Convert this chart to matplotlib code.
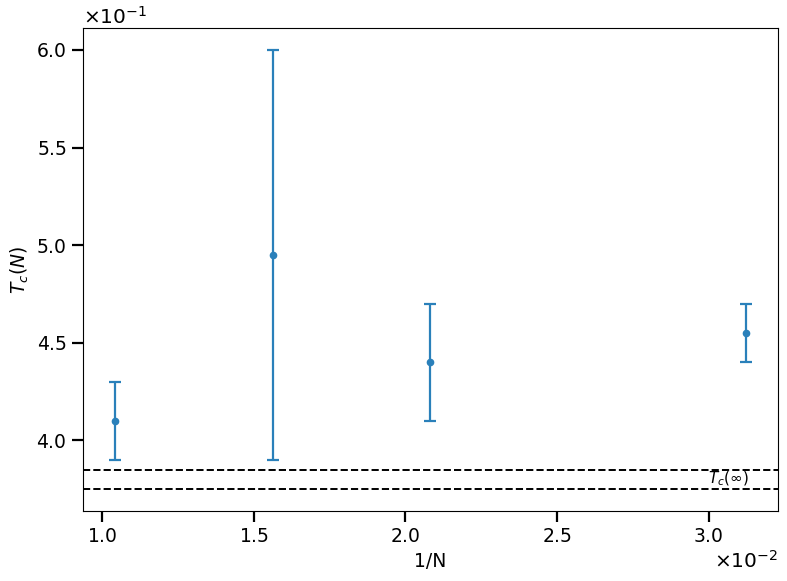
import numpy as np
import matplotlib.pyplot as plt

N_sizes = np.array([96, 64, 48, 32])
inv_N = 1.0 / N_sizes
Tc = np.array([0.41, 0.495, 0.44, 0.455])
Tc_err = np.array([0.02, 0.105, 0.03, 0.015])
Tc_inf_low = 0.375
Tc_inf_high = 0.385


def main():
    plt.rcParams['font.size'] = 13.5
    plt.rcParams['axes.formatter.use_mathtext'] = True
    fig = plt.figure(figsize=(7.87, 5.81), dpi=100)
    ax = fig.add_axes([83 / 787, 1 - 511 / 581, 695 / 787, 483 / 581])
    ax.errorbar(inv_N, Tc, yerr=Tc_err, fmt='o', color='#2a80ba', markersize=4.5,
                elinewidth=1.6, capsize=4, capthick=1.6)
    ax.axhline(Tc_inf_high, color='black', linestyle='--', linewidth=1.4)
    ax.axhline(Tc_inf_low, color='black', linestyle='--', linewidth=1.4)
    ax.text(0.0300, 0.5 * (Tc_inf_low + Tc_inf_high), r'$T_c(\infty)$', fontsize=11,
            va='center', ha='left')
    ax.ticklabel_format(style='sci', axis='both', scilimits=(0, 0))
    ax.tick_params(axis='both', which='major', length=8, width=1.6, labelsize=13.5)
    ax.xaxis.get_offset_text().set_fontsize(14.5)
    ax.yaxis.get_offset_text().set_fontsize(14.5)
    ax.set_xlabel('1/N', fontsize=13.5, labelpad=4)
    ax.set_ylabel(r'$T_c(N)$', fontsize=13.5)
    fig.savefig('out.png', dpi=100)


if __name__ == '__main__':
    main()
